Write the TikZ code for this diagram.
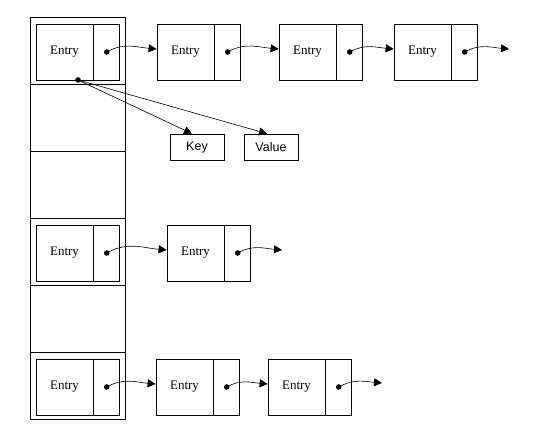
\documentclass[tikz,border=0pt]{standalone}
\usepackage{fontspec}
\setmainfont{Liberation Serif}
\newfontfamily\labelfont{Liberation Sans}
\usetikzlibrary{arrows.meta,positioning}

\begin{document}
\begin{tikzpicture}[x=1pt,y=1pt,>={Triangle[length=8pt,width=8pt]},
  line width=0.75pt,
  every node/.style={font=\fontsize{13}{15}\selectfont,inner sep=0pt},
  slot/.style={draw,minimum width=95pt,minimum height=67pt},
  entrybox/.style={draw,minimum width=57pt,minimum height=56pt},
  ptrbox/.style={draw,minimum width=26pt,minimum height=56pt},
  fieldbox/.style={draw,minimum width=54pt,minimum height=26pt,
    font=\labelfont\fontsize{12.5}{14}\selectfont},
  link/.style={->,line width=0.6pt}]
  \useasboundingbox (0,0) rectangle (541,-430);
  % bucket table
  \foreach \i/\y in {1/50.5,2/117.5,3/184.5,4/251.5,5/318.5,6/385.5}
    \node[slot] (s\i) at (77.5,-\y) {};
  % entries: row 1
  \node[entrybox] (e11) at (64.5,-52) {Entry};
  \node[ptrbox,right=0pt of e11] (p11) {};
  \node[entrybox] (e12) at (185.5,-52) {Entry};
  \node[ptrbox,right=0pt of e12] (p12) {};
  \node[entrybox] (e13) at (307.5,-52) {Entry};
  \node[ptrbox,right=0pt of e13] (p13) {};
  \node[entrybox] (e14) at (422.5,-52) {Entry};
  \node[ptrbox,right=0pt of e14] (p14) {};
  % entries: row 4
  \node[entrybox] (e41) at (64.5,-253) {Entry};
  \node[ptrbox,right=0pt of e41] (p41) {};
  \node[entrybox] (e42) at (195.5,-253) {Entry};
  \node[ptrbox,right=0pt of e42] (p42) {};
  % entries: row 6
  \node[entrybox] (e61) at (64.5,-387) {Entry};
  \node[ptrbox,right=0pt of e61] (p61) {};
  \node[entrybox] (e62) at (184.5,-387) {Entry};
  \node[ptrbox,right=0pt of e62] (p62) {};
  \node[entrybox] (e63) at (296.5,-387) {Entry};
  \node[ptrbox,right=0pt of e63] (p63) {};
  % key and value
  \node[fieldbox] (key) at (197,-147) {Key};
  \node[fieldbox] (val) at (271,-147) {Value};
  \coordinate (kv) at (78,-80);
  \coordinate (end1) at (509,-49);
  \coordinate (end4) at (282,-250);
  \coordinate (end6) at (382,-383);
  % pointers
  \foreach \p in {p11,p12,p13,p14,p41,p42,p61,p62,p63}
    \fill (\p.center) circle (2.8pt);
  \fill (kv) circle (2.8pt);
  \draw[link] (p11.center) to[out=30,in=175] ([yshift=3pt]e12.west);
  \draw[link] (p12.center) to[out=30,in=175] ([yshift=3pt]e13.west);
  \draw[link] (p13.center) to[out=30,in=175] ([yshift=3pt]e14.west);
  \draw[link] (p14.center) to[out=30,in=175] (end1);
  \draw[link] (p41.center) to[out=30,in=175] ([yshift=3pt]e42.west);
  \draw[link] (p42.center) to[out=30,in=175] (end4);
  \draw[link] (p61.center) to[out=30,in=175] ([yshift=3pt]e62.west);
  \draw[link] (p62.center) to[out=30,in=175] ([yshift=3pt]e63.west);
  \draw[link] (p63.center) to[out=30,in=175] (end6);
  \draw[link] (kv) -- ([xshift=-5pt]key.north);
  \draw[link] (kv) -- ([xshift=-4pt]val.north);
\end{tikzpicture}
\end{document}
